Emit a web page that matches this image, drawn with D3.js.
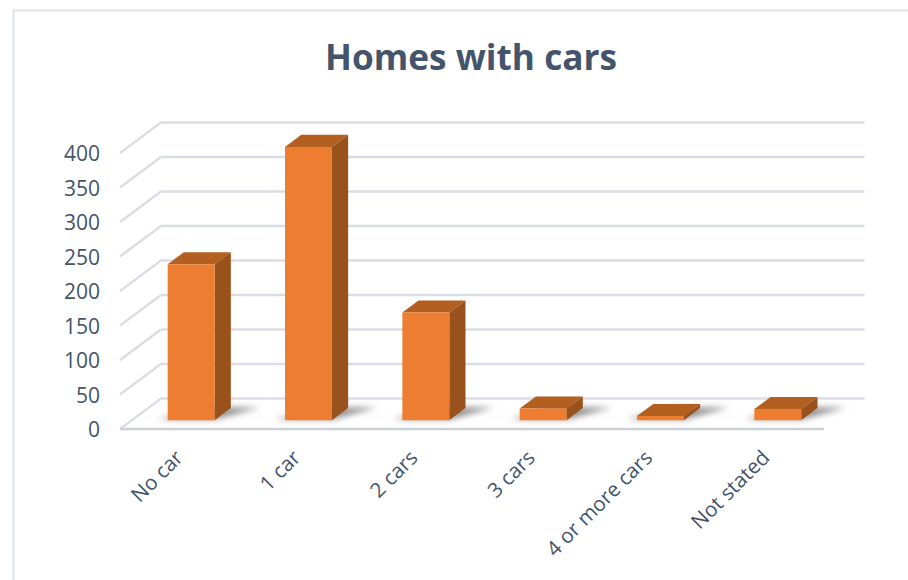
<!DOCTYPE html>
<html><head><meta charset="utf-8">
<script src="https://cdn.jsdelivr.net/npm/d3@7/dist/d3.min.js"></script>
<style>html,body{margin:0;padding:0;background:#fff}svg{display:block}text{font-family:"Open Sans",sans-serif}</style>
</head><body><div id="c"></div>
<script>
const categories = ["No car","1 car","2 cars","3 cars","4 or more cars","Not stated"];
const values = [226,396,156,17,6,16];
const tickValues = [0,50,100,150,200,250,300,350,400];
const title = "Homes with cars";

const W=908,H=580;
const svg=d3.select("#c").append("svg").attr("width",W).attr("height",H);
const defs=svg.append("defs");
defs.append("filter").attr("id","blur").attr("x","-40%").attr("y","-80%").attr("width","180%").attr("height","260%")
  .append("feGaussianBlur").attr("stdDeviation",3);
defs.append("filter").attr("id","soft").attr("filterUnits","userSpaceOnUse").attr("x",0).attr("y",0).attr("width",W).attr("height",H)
  .append("feGaussianBlur").attr("stdDeviation",0.45);

const x=d3.scaleBand().domain(categories).range([120.6,824.6]);
const y=d3.scaleLinear().domain([0,400]).range([429,153]);
const dx=41,dy=30.5;
const P=(px,v,z)=>[px+z*dx,y(v)-z*dy];
const line=d3.line();

// card frame
svg.append("path").attr("d",line([[13.5,H],[13.5,10.5],[W,10.5]])).attr("fill","none").attr("stroke","#e3e7eb").attr("stroke-width",2.4).attr("filter","url(#soft)");

// grid
const g=svg.append("g").attr("filter","url(#soft)");
tickValues.forEach(t=>{
  g.append("path").attr("d",line([P(120,t,1),P(823.5,t,1)])).attr("stroke","#dadde3").attr("stroke-width",2.6).attr("fill","none");
  g.append("path").attr("d",line([P(120,t,0),P(120,t,1)])).attr("stroke","#dadde3").attr("stroke-width",2.2).attr("fill","none");
  if(t===0) g.append("path").attr("d",line([P(120,t,0),P(824,t,0)])).attr("stroke","#cdd1d6").attr("stroke-width",2.6).attr("fill","none");
});

// bars
const zF=0.29,zB=0.685;
const barW=x.bandwidth()*0.4;
categories.forEach((c,i)=>{
  const v=values[i];
  const x0=x(c)+(x.bandwidth()-barW)/2, x1=x0+barW;
  const b=svg.append("g");
  b.append("path").attr("d",line([P(x0-11,0,zF+.03),P(x1,0,zF+.03),P(x1+28,0,zB+.02),P(x0+18,0,zB+.02)])+"Z")
    .attr("fill","#7c7c7c").attr("fill-opacity",.85).attr("filter","url(#blur)");
  b.append("path").attr("d",line([P(x0,v,zF),P(x1,v,zF),P(x1,v,zB),P(x0,v,zB)])+"Z").attr("fill","#b35f20");
  b.append("path").attr("d",line([P(x1,0,zF),P(x1,v,zF),P(x1,v,zB),P(x1,0,zB)])+"Z").attr("fill","#9a521c");
  b.append("path").attr("d",line([P(x0,0,zF),P(x1,0,zF),P(x1,v,zF),P(x0,v,zF)])+"Z").attr("fill","#ed7d31");
});

// y labels via axis
const axisY=svg.append("g").attr("transform","translate(100,1)").call(d3.axisLeft(y).tickValues(tickValues).tickSize(0).tickPadding(0));
axisY.select(".domain").remove();
axisY.selectAll("text").attr("font-size",21).attr("fill","#44546a").style("font-family",'"Open Sans",sans-serif').attr("dy","0.32em");

// x labels
const axisX=svg.append("g").attr("transform","translate(0,429)").call(d3.axisBottom(x).tickSize(0).tickPadding(0));
axisX.select(".domain").remove();
axisX.selectAll("text").attr("font-size",20.6).attr("fill","#44546a").style("font-family",'"Open Sans",sans-serif')
  .attr("text-anchor","end").attr("dy",0).attr("y",0)
  .attr("transform","translate(5,30) rotate(-45)");

svg.append("text").attr("x",471).attr("y",70).attr("text-anchor","middle").attr("font-size",35.2).attr("font-weight",700).attr("fill","#44546a").text(title);
</script></body></html>
